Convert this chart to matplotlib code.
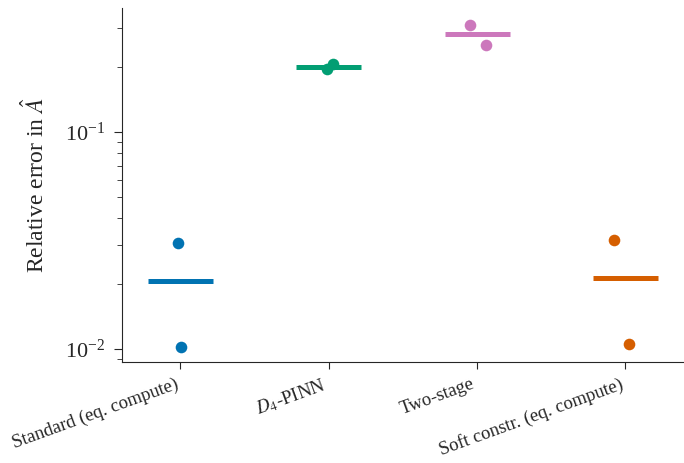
import numpy as np
import matplotlib
matplotlib.use("Agg")
import matplotlib.pyplot as plt
import seaborn as sns

# Relative error per method (two runs each)
methods = ["Standard (eq. compute)", r"$D_4$-PINN", "Two-stage", "Soft constr. (eq. compute)"]
run_errors = [
    [0.0309, 0.0102],
    [0.205, 0.1945],
    [0.311, 0.252],
    [0.0318, 0.0106],
]
# horizontal jitter of the two runs
jitter = [
    [-0.02, 0.006],
    [0.027, -0.013],
    [-0.046, 0.062],
    [-0.076, 0.027],
]

sns.set_style("ticks")
plt.rcParams["font.family"] = ["Liberation Serif", "DejaVu Serif"]
plt.rcParams["mathtext.fontset"] = "stix"

palette = sns.color_palette("colorblind")
colors = [palette[0], palette[2], palette[4], palette[3]]

fig = plt.figure(figsize=(6.84, 4.63), dpi=100)
ax = fig.add_axes([0.1784, 0.2181, 0.8206, 0.7646])

for i, errs in enumerate(run_errors):
    xs = [i + j for j in jitter[i]]
    ax.scatter(xs, errs, s=70, color=colors[i], zorder=3, linewidths=0)
    mean = np.mean(errs)
    ax.hlines(mean, i - 0.22, i + 0.22, color=colors[i], linewidth=3.6, zorder=2)

ax.set_yscale("log")
ax.set_ylim(0.00871, 0.3727)
ax.set_xlim(-0.394, 3.39)
ax.set_xticks(range(len(methods)))
ax.set_xticklabels(methods, rotation=20, ha="right", fontsize=13.5)
ax.tick_params(axis="x", length=5, pad=5)
ax.tick_params(axis="y", which="major", labelsize=16, length=6, pad=6)
ax.tick_params(axis="y", which="minor", length=3.5)
ax.set_ylabel(r"Relative error in $\hat{A}$", fontsize=17, labelpad=12)
sns.despine(ax=ax)

fig.savefig("out.png", dpi=100)
